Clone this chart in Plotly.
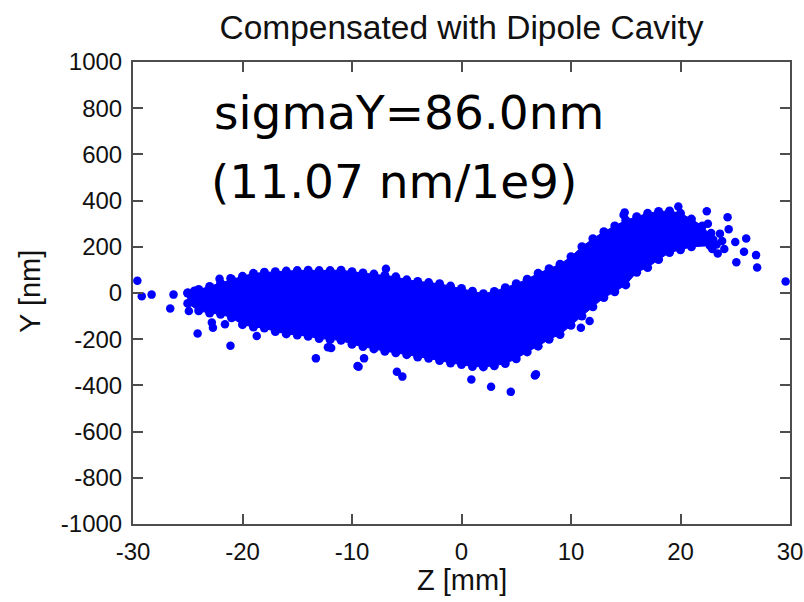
import plotly.graph_objects as go

# ---- data ----
# dense core of the particle cloud: upper edge (left->right) and lower edge (right->left)
band_top_z = [-25, -24, -23, -22, -21, -20, -19, -18, -17, -16, -15, -14, -13, -12, -11, -10, -9, -8, -7, -6,
              -5, -4, -3, -2, -1, 0, 1, 2, 3, 4, 5, 6, 7, 8, 9, 10, 11, 12, 13, 14, 15, 16, 17, 18, 19, 20,
              21, 22, 22.7]
band_top_y = [0, 15, 28, 42, 60, 72, 85, 90, 92, 95, 97, 99, 97, 97, 99, 92, 87, 82, 77, 70,
              57, 50, 45, 40, 30, 20, 8, -3, 7, 23, 40, 60, 85, 105, 125, 157, 200, 235, 265, 290, 315, 330,
              345, 353, 355, 345, 320, 290, 250]
band_bot_z = [22.7, 21, 20, 19, 18, 17, 16, 15, 14, 13, 12, 11, 10, 9, 8, 7, 6, 5, 4, 3, 2, 1, 0, -1, -2, -3,
              -4, -5, -6, -7, -8, -9, -10, -11, -12, -13, -14, -15, -16, -17, -18, -19, -20, -21, -22, -23,
              -24, -25]
band_bot_y = [205, 200, 187, 175, 145, 110, 90, 35, 5, -20, -60, -100, -140, -180, -200, -230, -255, -285,
              -305, -315, -320, -318, -310, -303, -292, -283, -277, -267, -259, -252, -242, -232, -222,
              -205, -202, -197, -187, -182, -177, -167, -152, -147, -137, -107, -92, -87, -77, -45]

# scattered particles outside the core
out_z = [-29.6, -29.2, -28.3, -26.3, -26.6, -24.9, -24.1, -22.8, -22.7, -21.6, -21.1, -18.7, -13.3, -12.2,
         -11.9, -9.5, -9.4, -8.9, -6.9, -5.9, -5.4, 0.9, 2.7, 4.5, 6.7, 6.8, 10.9, 11.7, 14.8, 14.9, 19.8,
         22.4, 23.4, 23.6, 24.3, 24.4, 25.0, 25.1, 25.8, 26.0, 26.9, 27.0, 29.6, -22.1, -21.1, -24.4,
         22.8, 23.0, 22.9, 23.3, 22.5, 23.8, 24.0]
out_y = [53, -14, -7, -7, -67, -78, -175, -128, -150, -135, -228, -186, -283, -235,
         -238, -316, -319, -283, 105, -341, -362, -374, -406, -428, -357, -352, -150, -121, 338, 349, 374,
         354, 171, 257, 328, 276, 221, 133, 179, 236, 164, 110, 50, 62, 64, 10,
         260, 230, 190, 210, 300, 225, 190]

x_ticks = [-30, -20, -10, 0, 10, 20, 30]
x_labels = ["-30", "-20", "-10", "0", "10", "20", "30"]
y_ticks = [-1000, -800, -600, -400, -200, 0, 200, 400, 600, 800, 1000]
y_labels = ["-1000", "-800", "-600", "-400", "-200", "0", "200", "400", "600", "800", "1000"]

BLUE = "#0000ff"
AX = "#4d4d4d"
FONT = "Liberation Sans"
TXT = "#111111"

poly_z = band_top_z + band_bot_z + [band_top_z[0]]
poly_y = band_top_y + band_bot_y + [band_top_y[0]]

fig = go.Figure()
fig.add_trace(go.Scatter(x=poly_z, y=poly_y, mode="lines+markers", fill="toself",
                         fillcolor=BLUE, line=dict(color=BLUE, width=1),
                         marker=dict(color=BLUE, size=9), hoverinfo="skip", showlegend=False))
fig.add_trace(go.Scatter(x=out_z, y=out_y, mode="markers",
                         marker=dict(color=BLUE, size=8.5), showlegend=False))

axis_common = dict(showline=True, linecolor=AX, linewidth=2, mirror="ticks",
                   ticks="inside", ticklen=10, tickwidth=1.5, tickcolor=AX,
                   showgrid=False, zeroline=False, automargin=False,
                   tickfont=dict(family=FONT, size=24, color=TXT))

fig.update_xaxes(range=[-30, 30], tickvals=x_ticks, ticktext=x_labels, ticklabelstandoff=5,
                 **axis_common)
fig.update_yaxes(range=[-1000, 1000], tickvals=y_ticks, ticktext=y_labels, ticklabelstandoff=4,
                 **axis_common)

fig.update_layout(
    width=804, height=602,
    margin=dict(l=133, r=14, t=62, b=78),
    paper_bgcolor="white", plot_bgcolor="white",
    title=dict(text="Compensated with Dipole Cavity", x=0.5, xref="paper", xanchor="center",
               y=1 - 27 / 602, yref="container", yanchor="middle",
               font=dict(family=FONT, size=33.5, color=TXT)),
    annotations=[
        dict(text="Z [mm]", x=0.5, y=(524 - 580) / 462, xref="paper", yref="paper",
             xanchor="center", yanchor="middle", showarrow=False,
             font=dict(family=FONT, size=29, color=TXT)),
        dict(text="Y [nm]", x=(30 - 133) / 657, y=(524 - 292) / 462, xref="paper", yref="paper",
             xanchor="center", yanchor="middle", showarrow=False, textangle=-90,
             font=dict(family=FONT, size=29, color=TXT)),
        dict(text="sigmaY=86.0nm", x=(212 - 133) / 657, y=(524 - 112) / 462, xref="paper", yref="paper",
             xanchor="left", yanchor="middle", showarrow=False,
             font=dict(family="DejaVu Sans", size=47, color="black")),
        dict(text="(11.07 nm/1e9)", x=(209 - 133) / 657, y=(524 - 181) / 462, xref="paper", yref="paper",
             xanchor="left", yanchor="middle", showarrow=False,
             font=dict(family="DejaVu Sans", size=47, color="black")),
    ],
)

fig.write_html("out.html")
